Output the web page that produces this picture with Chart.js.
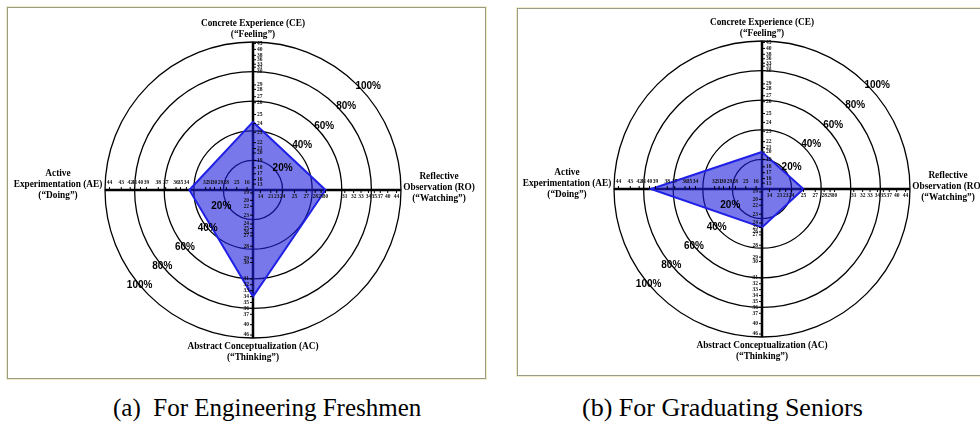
<!DOCTYPE html>
<html>
<head>
<meta charset="utf-8">
<script src="https://cdn.jsdelivr.net/npm/chart.js@4.4.1/dist/chart.umd.min.js"></script>
<style>
  html, body { margin: 0; padding: 0; background: #fff; width: 980px; height: 441px; overflow: hidden; }
  .frame { position: absolute; box-sizing: border-box; border: 1px solid #9a9a88; box-shadow: 0 0 0 1px #f1edc6; }
  canvas { position: absolute; }
  .cap { position: absolute; font-family: 'Liberation Serif'; font-size: 25px;
         line-height: 25px; white-space: pre; color: #000; }
</style>
</head>
<body>
<div class="frame" style="left:7px;top:7px;width:479px;height:372px"></div>
<div class="frame" style="left:517px;top:8px;width:479px;height:368px"></div>
<canvas id="chartA" width="490" height="380" style="left:0;top:0"></canvas>
<canvas id="chartB" width="490" height="380" style="left:490px;top:0"></canvas>
<div class="cap" style="left:113px;top:395px">(a)  For Engineering Freshmen</div>
<div class="cap" style="left:582px;top:395px;font-size:26px">(b) For Graduating Seniors</div>

<script>
// Learning-mode axes, clockwise from the top
const axisNames = ['CE', 'RO', 'AC', 'AE'];

// Percentile reached on each axis (CE, RO, AC, AE)
const freshmenPct = [46, 49, 72, 43];
const seniorsPct  = [25, 28, 26, 75];

// Percentile rings
const ringPct = [20, 40, 60, 80, 100];

// Raw-score norms printed along each axis, with the percentile each score sits at
const ceScores = [45, 40, 38, 36, 33, 31, 30, 29, 28, 27, 26, 25, 24, 23, 22, 21, 20, 19, 18, 17, 16, 13];
const cePct    = [99, 95, 91, 88, 85, 83, 80, 71, 68, 63, 59, 51, 45, 39, 32, 28, 25, 20, 15, 11, 7, 4];

const roScores = [14, 21, 23, 24, 25, 27, 28, 29, 30, 31, 32, 33, 34, 35, 37, 40, 44];
const roPct    = [5, 12, 16, 20, 28, 36, 42, 46, 49, 62, 68, 73, 78, 82, 86, 91, 97];

const acScores = [19, 20, 22, 23, 24, 25, 26, 27, 28, 29, 30, 31, 32, 33, 34, 35, 36, 37, 40, 46];
const acPct    = [2, 7, 11, 17, 23, 26, 29, 31, 38, 46, 49, 60, 64, 68, 72, 76, 80, 84, 91, 98];

const aeScores = [44, 43, 42, 41, 40, 39, 38, 37, 36, 35, 34, 32, 31, 30, 29, 28, 25, 16];
const aePct    = [97, 89, 83, 80, 76, 72, 64, 59, 52, 49, 45, 32, 29, 26, 22, 18, 11, 4];

// Axis titles
const titleCE = ['Concrete Experience (CE)', '(\u201CFeeling\u201D)'];
const titleRO = ['Reflective', 'Observation (RO)', '(\u201CWatching\u201D)'];
const titleAC = ['Abstract Conceptualization (AC)', '(\u201CThinking\u201D)'];
const titleAE = ['Active', 'Experimentation (AE)', '(\u201CDoing\u201D)'];

const norms = [
  { scores: ceScores, pct: cePct },
  { scores: roScores, pct: roPct },
  { scores: acScores, pct: acPct },
  { scores: aeScores, pct: aePct }
];

// Draws score ticks, ring percentages and axis titles on top of the radar
const kolbDecor = {
  id: 'kolbDecor',
  afterDatasetsDraw(chart) {
    const s = chart.scales.r;
    const ctx = chart.ctx;
    const cx = s.xCenter, cy = s.yCenter;
    ctx.save();

    // raw-score ticks
    ctx.strokeStyle = '#000';
    ctx.fillStyle = '#111';
    ctx.lineWidth = 1;
    ctx.font = 'bold 5.5px "Liberation Serif"';
    ctx.textBaseline = 'middle';
    norms.forEach((n, i) => {
      n.scores.forEach((score, k) => {
        const p = s.getPointPositionForValue(i, n.pct[k]);
        ctx.beginPath();
        if (i === 0) {
          ctx.moveTo(p.x, p.y); ctx.lineTo(p.x + 3, p.y); ctx.stroke();
          ctx.textAlign = 'left'; ctx.fillText(String(score), p.x + 4, p.y);
        } else if (i === 1) {
          ctx.moveTo(p.x, p.y); ctx.lineTo(p.x, p.y + 3); ctx.stroke();
          ctx.textAlign = 'center'; ctx.fillText(String(score), p.x, p.y + 7);
        } else if (i === 2) {
          ctx.moveTo(p.x - 3, p.y); ctx.lineTo(p.x, p.y); ctx.stroke();
          ctx.textAlign = 'right'; ctx.fillText(String(score), p.x - 4, p.y);
        } else {
          ctx.moveTo(p.x, p.y - 3); ctx.lineTo(p.x, p.y); ctx.stroke();
          ctx.textAlign = 'center'; ctx.fillText(String(score), p.x, p.y - 7);
        }
      });
    });

    // ring percentages, upper-right and lower-left
    ctx.fillStyle = '#000';
    ctx.font = 'bold 10px "Liberation Sans"';
    ctx.textAlign = 'center';
    ringPct.forEach((v, k) => {
      const d = s.getDistanceFromCenterForValue(v);
      const txt = v + '%';
      let a = (k === 0 ? 36 : 42) * Math.PI / 180;
      let D = d + 7;
      ctx.fillText(txt, cx + D * Math.cos(a), cy - D * Math.sin(a));
      a = (k === 0 ? 27 : 40) * Math.PI / 180;
      D = k === 0 ? d + 6 : d;
      ctx.fillText(txt, cx - D * Math.cos(a), cy + D * Math.sin(a));
    });

    // axis titles
    ctx.font = 'bold 9.3px "Liberation Serif"';
    const lines = (arr, x, y0) => arr.forEach((t, j) => ctx.fillText(t, x, y0 + j * 11));
    lines(titleCE, cx, cy - 166);
    lines(titleAC, cx, cy + 157);
    lines(titleAE, cx - 195, cy - 16);
    lines(titleRO, cx + 186, cy - 13);

    ctx.restore();
  }
};

function makeChart(id, values, pad) {
  return new Chart(document.getElementById(id), {
    type: 'radar',
    data: {
      labels: axisNames,
      datasets: [{
        data: values,
        backgroundColor: 'rgba(30, 30, 220, 0.6)',
        borderColor: '#2020e6',
        borderWidth: 2,
        pointRadius: 0,
        tension: 0,
        fill: 'origin'
      }]
    },
    options: {
      responsive: false,
      animation: false,
      layout: { padding: pad },
      plugins: { legend: { display: false }, tooltip: { enabled: false } },
      scales: {
        r: {
          min: 0,
          max: 100,
          ticks: { display: false, stepSize: 20 },
          grid: { circular: true, color: '#000', lineWidth: 1.3 },
          angleLines: { color: '#000', lineWidth: 2.5 },
          pointLabels: { display: false }
        }
      }
    },
    plugins: [kolbDecor]
  });
}

makeChart('chartA', freshmenPct, { left: 105, top: 42, right: 89, bottom: 42 });
makeChart('chartB', seniorsPct, { left: 124, top: 41, right: 70, bottom: 43 });
</script>
</body>
</html>
